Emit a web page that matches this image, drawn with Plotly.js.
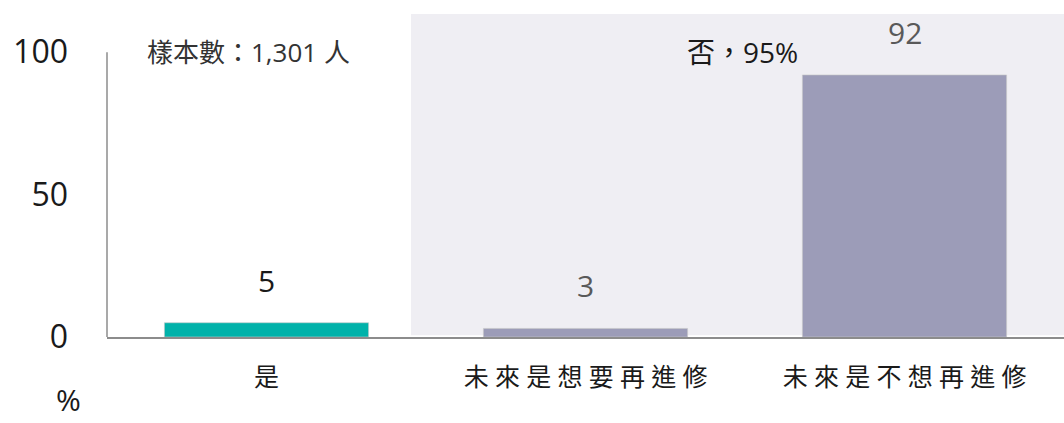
<!DOCTYPE html>
<html>
<head>
<meta charset="utf-8">
<script src="https://cdn.plot.ly/plotly-3.0.1.min.js"></script>
<style>html,body{margin:0;padding:0;background:#fff;}#chart{width:1064px;height:423px;}</style>
</head>
<body>
<div id="chart"></div>
<script>
const categories = ['是', '未來是想要再進修', '未來是不想再進修'];
const values = [5, 3, 92];
const barColors = ['#00B2AA', '#9C9CB8', '#9C9CB8'];
const valueLabelColors = ['#1a1a1a', '#595959', '#595959'];
const yTickValues = [0, 50, 100];
const sampleNote = '樣本數：1,301 人';
const groupNote = '否，95%';
const unitLabel = '%';

const spaced = categories.map(c => c.split('').join('\u2005'));

const trace = {
  type: 'bar',
  x: categories,
  y: values,
  width: 0.64,
  marker: {color: barColors, line: {color: 'rgba(200,200,200,0.6)', width: 1}},
  hoverinfo: 'skip'
};

const valueAnnotations = categories.map((c, i) => ({
  x: c, y: values[i], xref: 'x', yref: 'y',
  text: String(values[i]), showarrow: false,
  yanchor: 'bottom', yshift: 20,
  font: {family: 'Open Sans, Noto Sans CJK TC', size: 30, color: valueLabelColors[i]}
}));

const layout = {
  width: 1064, height: 423,
  margin: {l: 107, r: 0, t: 14, b: 86},
  paper_bgcolor: '#ffffff', plot_bgcolor: 'rgba(0,0,0,0)',
  showlegend: false,
  bargap: 0.36,
  xaxis: {
    type: 'category',
    tickvals: categories, ticktext: spaced,
    range: [-0.5, 2.5],
    showline: true, linecolor: '#8c8c8c', linewidth: 1.5,
    showgrid: false, zeroline: false, ticks: '',
    ticklabelstandoff: 17,
    tickfont: {family: 'Noto Sans CJK TC', size: 25, color: '#1a1a1a'}
  },
  yaxis: {
    range: [0, 113.4],
    tickvals: yTickValues,
    showline: false, showgrid: false, zeroline: false, ticks: '',
    ticklabelstandoff: 38,
    tickfont: {family: 'Open Sans, Noto Sans CJK TC', size: 32, color: '#1a1a1a'},
    fixedrange: true
  },
  shapes: [
    {type: 'rect', layer: 'below', xref: 'x', yref: 'y', x0: 0.453, x1: 2.5, y0: 0.6, y1: 113.4,
     fillcolor: '#EFEEF3', line: {width: 0}},
    {type: 'line', xref: 'paper', yref: 'y', x0: 0, x1: 0, y0: 0, y1: 100,
     line: {color: '#8c8c8c', width: 1.5}}
  ],
  annotations: valueAnnotations.concat([
    {xref: 'paper', yref: 'y', x: (248 - 107) / 957, y: 100, text: sampleNote, showarrow: false,
     xanchor: 'center', yanchor: 'middle',
     font: {family: 'Open Sans, Noto Sans CJK TC', size: 26, color: '#333333'}},
    {xref: 'paper', yref: 'y', x: (742 - 107) / 957, y: 100, text: groupNote, showarrow: false,
     xanchor: 'center', yanchor: 'middle',
     font: {family: 'Open Sans, Noto Sans CJK TC', size: 28, color: '#1a1a1a'}},
    {xref: 'paper', yref: 'paper', x: (68 - 107) / 957, y: -(399 - 337) / 323, text: unitLabel, showarrow: false,
     xanchor: 'center', yanchor: 'middle',
     font: {family: 'Open Sans', size: 30, color: '#1a1a1a'}}
  ])
};

Plotly.newPlot('chart', [trace], layout, {displayModeBar: false, staticPlot: true});
</script>
</body>
</html>
